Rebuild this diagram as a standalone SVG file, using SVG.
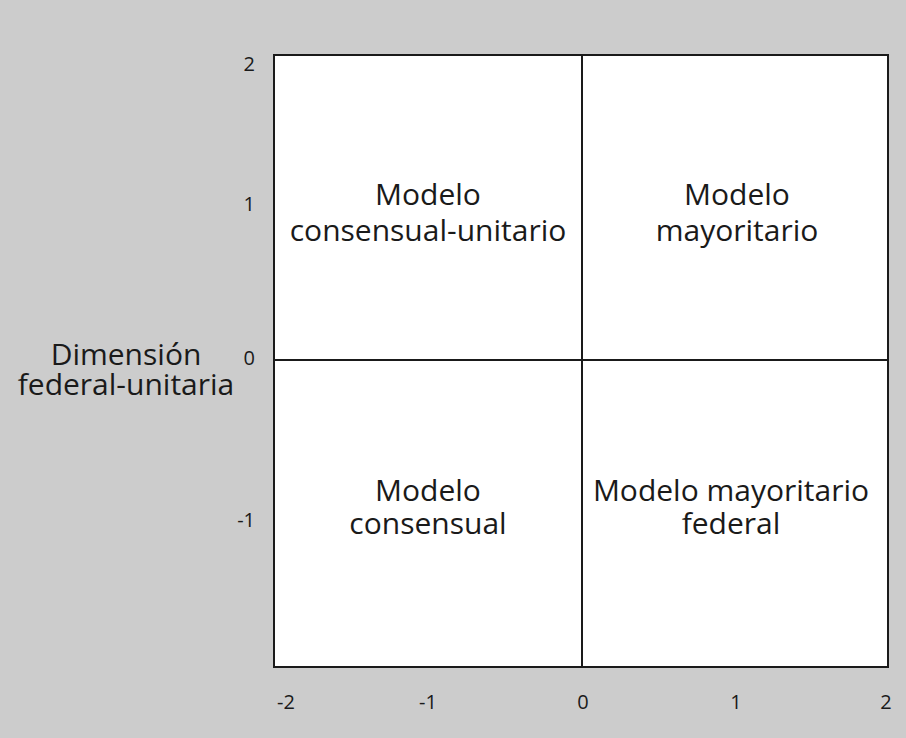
<svg xmlns="http://www.w3.org/2000/svg" width="906" height="738" viewBox="0 0 906 738">
<style>
.t{font-family:"Open Sans","Noto Sans",sans-serif;fill:#1a1a1a}
.q{font-size:30px;text-anchor:middle}
.a{font-size:20px}
.r{text-anchor:end}
.m{text-anchor:middle}
.ln{stroke:#1a1a1a;stroke-width:2;fill:none}
</style>
<rect x="0" y="0" width="906" height="738" fill="#cccccc"/>
<g id="plot">
<rect x="274" y="55" width="614" height="612" style="fill:#ffffff;stroke:#1a1a1a;stroke-width:2"/>
</g>
<g id="connectors">
<line x1="582" y1="55" x2="582" y2="667" class="ln"/>
<line x1="274" y1="360" x2="888" y2="360" class="ln"/>
</g>
<g id="q1"><text class="t q" x="428" y="205">Modelo</text><text class="t q" x="428" y="241">consensual-unitario</text></g>
<g id="q2"><text class="t q" x="737" y="205">Modelo</text><text class="t q" x="737" y="241">mayoritario</text></g>
<g id="q3"><text class="t q" x="428" y="501">Modelo</text><text class="t q" x="428" y="534">consensual</text></g>
<g id="q4"><text class="t q" x="731" y="501">Modelo mayoritario</text><text class="t q" x="731" y="534">federal</text></g>
<g id="yaxis">
<text class="t a r" x="255" y="71">2</text>
<text class="t a r" x="255" y="211">1</text>
<text class="t a r" x="255" y="365">0</text>
<text class="t a r" x="255" y="527">-1</text>
</g>
<g id="xaxis">
<text class="t a m" x="286" y="709">-2</text>
<text class="t a m" x="428" y="709">-1</text>
<text class="t a m" x="583" y="709">0</text>
<text class="t a m" x="736" y="709">1</text>
<text class="t a m" x="886" y="709">2</text>
</g>
<g id="ylabel">
<text class="t q" x="126" y="365">Dimensión</text>
<text class="t q" x="126" y="395">federal-unitaria</text>
</g>
</svg>
